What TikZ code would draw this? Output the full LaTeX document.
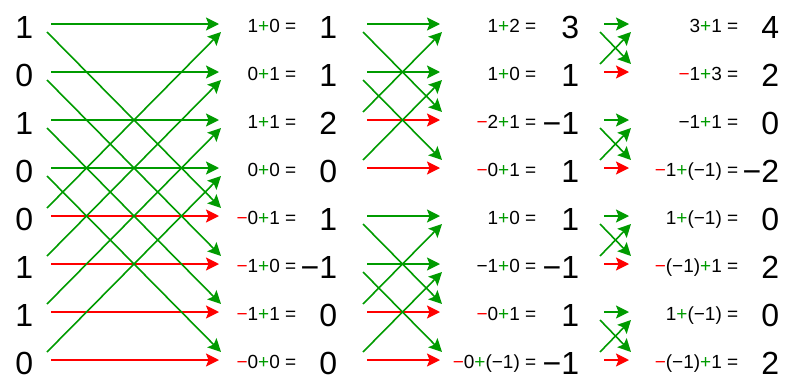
\documentclass[tikz,border=0pt]{standalone}
\usepackage{fontspec}
\setmainfont{Liberation Sans}
\usetikzlibrary{arrows.meta}

\begin{document}
\begin{tikzpicture}[x=1pt,y=-1pt,line width=1.6pt]
  % Key Colors
  \definecolor{pluscolor} {RGB}{0,155,0}
  \definecolor{minuscolor}{RGB}{255,0,0}

  % Local definitions
  \def\gp{\textcolor{pluscolor}{+}}
  \def\rn{\textcolor{minuscolor}{−}}

  % Styles
  \tikzstyle{plus arrow}=[pluscolor,-{Stealth[length=13pt,width=13pt,inset=2.5pt]}]
  \tikzstyle{minus arrow}=[minuscolor,-{Stealth[length=13pt,width=13pt,inset=2.5pt]}]
  \tikzstyle{digit}=[anchor=base east,inner sep=0pt,font=\fontsize{32}{38}\selectfont]
  \tikzstyle{sum text}=[anchor=base east,inner sep=0pt,font=\fontsize{19}{22}\selectfont]

  \useasboundingbox (0,0) rectangle (800,383);

  % One butterfly: #1 left x, #2 right x, #3 upper row, #4 lower row
  \def\butterfly#1#2#3#4{
    \coordinate (topL) at (#1+4,24+48*#3);
    \coordinate (topR) at (#2,24+48*#3);
    \coordinate (botL) at (#1+4,24+48*#4);
    \coordinate (botR) at (#2,24+48*#4);
    \coordinate (downL) at (#1,32+48*#3);
    \coordinate (downR) at (#2+2,16+48*#4);
    \coordinate (upL) at (#1,16+48*#4);
    \coordinate (upR) at (#2+2,32+48*#3);
    \draw[plus arrow]  (topL)  -- (topR);
    \draw[minus arrow] (botL)  -- (botR);
    \draw[plus arrow]  (downL) -- (downR);
    \draw[plus arrow]  (upL)   -- (upR);
  }

  % Input
  \foreach \v [count=\i from 0] in {1,0,1,0,0,1,1,0}
    \node[digit] (in\i) at (34,38+48*\i) {\v};

  % Stage 1
  \foreach \a/\b in {0/4,1/5,2/6,3/7}
    \butterfly{47}{219}{\a}{\b};
  \foreach \s/\v [count=\i from 0] in {{1\gp0 =}/1,{0\gp1 =}/1,{1\gp1 =}/2,{0\gp0 =}/0,
      {\rn0\gp1 =}/1,{\rn1\gp0 =}/−1,{\rn1\gp1 =}/0,{\rn0\gp0 =}/0}{
    \node[sum text] (suma\i) at (297,32.5+48*\i) {\s};
    \node[digit]    (vala\i) at (338,38+48*\i) {\v};
  }

  % Stage 2
  \foreach \a/\b in {0/2,1/3,4/6,5/7}
    \butterfly{363}{440}{\a}{\b};
  \foreach \s/\v [count=\i from 0] in {{1\gp2 =}/3,{1\gp0 =}/1,{\rn2\gp1 =}/−1,{\rn0\gp1 =}/1,
      {1\gp0 =}/1,{−1\gp0 =}/−1,{\rn0\gp1 =}/1,{\rn0\gp(−1) =}/−1}{
    \node[sum text] (sumb\i) at (537,32.5+48*\i) {\s};
    \node[digit]    (valb\i) at (580,38+48*\i) {\v};
  }

  % Stage 3
  \foreach \a/\b in {0/1,2/3,4/5,6/7}
    \butterfly{600}{629}{\a}{\b};
  \foreach \s/\v [count=\i from 0] in {{3\gp1 =}/4,{\rn1\gp3 =}/2,{−1\gp1 =}/0,{\rn1\gp(−1) =}/−2,
      {1\gp(−1) =}/0,{\rn(−1)\gp1 =}/2,{1\gp(−1) =}/0,{\rn(−1)\gp1 =}/2}{
    \node[sum text] (sumc\i) at (739,32.5+48*\i) {\s};
    \node[digit]    (valc\i) at (780,38+48*\i) {\v};
  }
\end{tikzpicture}
\end{document}
